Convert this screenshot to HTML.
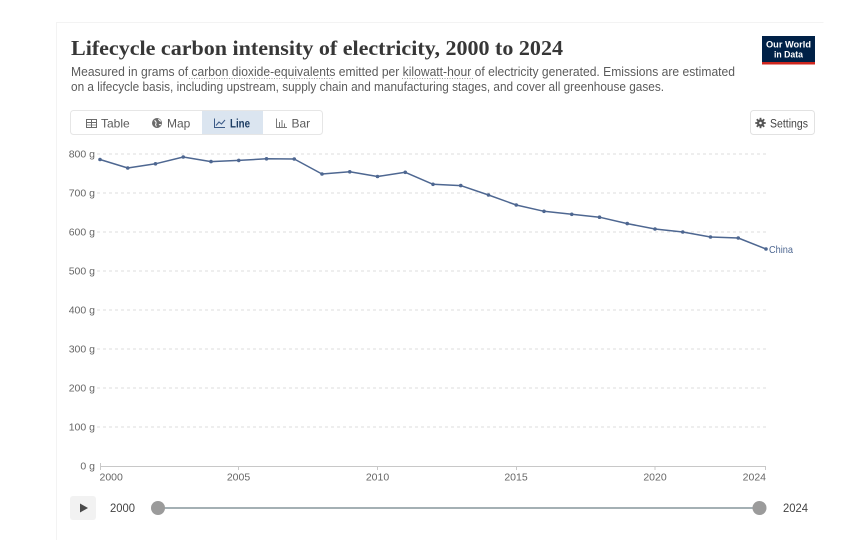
<!DOCTYPE html>
<html><head><meta charset="utf-8"><style>
html,body{margin:0;padding:0;background:#fff;}
svg{display:block;}
text{font-family:"Liberation Sans",sans-serif;}
text.serif{font-family:"Liberation Serif",serif;}
</style></head><body>
<svg width="867" height="540" viewBox="0 0 867 540" xmlns="http://www.w3.org/2000/svg">
<rect x="0" y="0" width="867" height="540" fill="#fff"/>
<!-- faint frame -->
<path d="M56.5 540 V22.5 H823.5" fill="none" stroke="#f3f3f3" stroke-width="1"/>

<!-- Title -->
<text class="serif" x="71" y="55" style="font-family:'Liberation Serif',serif" font-weight="bold" font-size="21" fill="#373737" textLength="492" lengthAdjust="spacingAndGlyphs">Lifecycle carbon intensity of electricity, 2000 to 2024</text>
<!-- Subtitle -->
<text x="71" y="76" font-size="12.5" fill="#5b5b5b" textLength="664" lengthAdjust="spacingAndGlyphs">Measured in grams of carbon dioxide-equivalents emitted per kilowatt-hour of electricity generated. Emissions are estimated</text>
<text x="71" y="91" font-size="12.5" fill="#5b5b5b" textLength="593" lengthAdjust="spacingAndGlyphs">on a lifecycle basis, including upstream, supply chain and manufacturing stages, and cover all greenhouse gases.</text>
<line x1="189" y1="78.5" x2="334" y2="78.5" stroke="#9a9a9a" stroke-width="1" stroke-dasharray="1,1.5"/>
<line x1="402" y1="78.5" x2="473" y2="78.5" stroke="#9a9a9a" stroke-width="1" stroke-dasharray="1,1.5"/>

<!-- Logo -->
<rect x="762" y="36" width="53" height="28" fill="#002147"/>
<rect x="762" y="62" width="53" height="2.5" fill="#ce261e"/>
<text x="788.5" y="47.5" font-size="9.5" font-weight="bold" fill="#fff" text-anchor="middle" textLength="45" lengthAdjust="spacingAndGlyphs">Our World</text>
<text x="788.5" y="57.5" font-size="9.5" font-weight="bold" fill="#fff" text-anchor="middle" textLength="29" lengthAdjust="spacingAndGlyphs">in Data</text>

<!-- Tab bar -->
<rect x="70.5" y="110.5" width="252" height="24" rx="3" fill="#fff" stroke="#e6e6e6"/>
<rect x="202" y="111" width="61" height="23" fill="#dbe5f0"/>
<!-- table icon -->
<rect x="86.5" y="119.5" width="10" height="8" fill="none" stroke="#6b6b6b" stroke-width="1"/>
<line x1="86.5" y1="122.5" x2="96.5" y2="122.5" stroke="#6b6b6b"/>
<line x1="91.5" y1="119.5" x2="91.5" y2="127.5" stroke="#6b6b6b"/>
<line x1="86.5" y1="125" x2="96.5" y2="125" stroke="#6b6b6b" stroke-width="0.7"/>
<text x="101" y="127.5" font-size="12" fill="#5b5b5b">Table</text>
<!-- globe icon -->
<circle cx="157" cy="123" r="5" fill="#6b6b6b"/>
<path d="M154.5 120.5 q2 1 1.5 3 q-1 1 .5 3 M158.5 119 q1 2 2.5 2.2 M159 125 q1 -1 2 0" stroke="#fff" stroke-width="1" fill="none"/>
<text x="167" y="127.5" font-size="12" fill="#5b5b5b">Map</text>
<!-- line icon -->
<path d="M214.5 118.5 V127.5 H225" fill="none" stroke="#3b5a87" stroke-width="1"/>
<path d="M216 125.5 L219 122 L221.5 124 L225 120" fill="none" stroke="#3b5a87" stroke-width="1"/>
<text x="230" y="127.5" font-size="12" fill="#1d3d63" font-weight="bold" textLength="20" lengthAdjust="spacingAndGlyphs">Line</text>
<!-- bar icon -->
<path d="M276.5 118.5 V127.5 H287" fill="none" stroke="#7a7a7a" stroke-width="1"/>
<line x1="279.5" y1="127" x2="279.5" y2="122" stroke="#7a7a7a"/>
<line x1="282" y1="127" x2="282" y2="120" stroke="#7a7a7a"/>
<line x1="284.5" y1="127" x2="284.5" y2="123.5" stroke="#7a7a7a"/>
<text x="291.5" y="127.5" font-size="12" fill="#5b5b5b">Bar</text>

<!-- Settings -->
<rect x="750.5" y="110.5" width="64" height="24" rx="3" fill="#fff" stroke="#e2e2e2"/>
<circle cx="760.5" cy="123" r="3.6" fill="#555"/>
<g stroke="#555" stroke-width="1.8">
<line x1="760.5" y1="117.8" x2="760.5" y2="128.2"/>
<line x1="755.3" y1="123" x2="765.7" y2="123"/>
<line x1="756.8" y1="119.3" x2="764.2" y2="126.7"/>
<line x1="756.8" y1="126.7" x2="764.2" y2="119.3"/>
</g>
<circle cx="760.5" cy="123" r="1.3" fill="#fff"/>
<text x="770" y="127.3" font-size="11.5" fill="#444" textLength="38" lengthAdjust="spacingAndGlyphs">Settings</text>

<!-- Gridlines -->
<g stroke="#dedede" stroke-width="1" stroke-dasharray="3,3">
<line x1="97" y1="154" x2="766" y2="154"/>
<line x1="97" y1="193" x2="766" y2="193"/>
<line x1="97" y1="232" x2="766" y2="232"/>
<line x1="97" y1="271" x2="766" y2="271"/>
<line x1="97" y1="310" x2="766" y2="310"/>
<line x1="97" y1="349" x2="766" y2="349"/>
<line x1="97" y1="388" x2="766" y2="388"/>
<line x1="97" y1="427" x2="766" y2="427"/>
</g>
<!-- Y labels -->
<g font-size="10.5" fill="#666" text-anchor="end">
<text x="95" y="157.5">800 g</text>
<text x="95" y="196.5">700 g</text>
<text x="95" y="235.5">600 g</text>
<text x="95" y="274.5">500 g</text>
<text x="95" y="313.5">400 g</text>
<text x="95" y="352.5">300 g</text>
<text x="95" y="391.5">200 g</text>
<text x="95" y="430.5">100 g</text>
<text x="95" y="469.5">0 g</text>
</g>
<!-- X axis -->
<line x1="100" y1="466.5" x2="766" y2="466.5" stroke="#c8c8c8" stroke-width="1"/>
<g stroke="#c8c8c8" stroke-width="1">
<line x1="100.5" y1="463" x2="100.5" y2="470"/>
<line x1="238.5" y1="466" x2="238.5" y2="470"/>
<line x1="377.5" y1="466" x2="377.5" y2="470"/>
<line x1="516.5" y1="466" x2="516.5" y2="470"/>
<line x1="655" y1="466" x2="655" y2="470"/>
<line x1="765.5" y1="466" x2="765.5" y2="470"/>
</g>
<g font-size="10.5" fill="#666">
<text x="99.5" y="480.5">2000</text>
<text x="238.5" y="480.5" text-anchor="middle">2005</text>
<text x="377.5" y="480.5" text-anchor="middle">2010</text>
<text x="516" y="480.5" text-anchor="middle">2015</text>
<text x="655" y="480.5" text-anchor="middle">2020</text>
<text x="766" y="480.5" text-anchor="end">2024</text>
</g>

<!-- Series -->
<polyline fill="none" stroke="#4e6791" stroke-width="1.5" stroke-linejoin="round" points="100,159.5 127.75,168 155.5,163.8 183.25,157 211,161.6 238.75,160.4 266.5,158.8 294.25,159 322,174 349.75,171.8 377.5,176.5 405.25,172.3 433,184.3 460.75,185.6 488.5,195 516.25,205 544,211.3 571.75,214.3 599.5,217.2 627.25,223.6 655,229 682.75,232 710.5,237 738.25,238 766,249"/>
<g fill="#4e6791">
<circle cx="100" cy="159.5" r="1.8"/><circle cx="127.75" cy="168" r="1.8"/><circle cx="155.5" cy="163.8" r="1.8"/><circle cx="183.25" cy="157" r="1.8"/><circle cx="211" cy="161.6" r="1.8"/><circle cx="238.75" cy="160.4" r="1.8"/><circle cx="266.5" cy="158.8" r="1.8"/><circle cx="294.25" cy="159" r="1.8"/><circle cx="322" cy="174" r="1.8"/><circle cx="349.75" cy="171.8" r="1.8"/><circle cx="377.5" cy="176.5" r="1.8"/><circle cx="405.25" cy="172.3" r="1.8"/><circle cx="433" cy="184.3" r="1.8"/><circle cx="460.75" cy="185.6" r="1.8"/><circle cx="488.5" cy="195" r="1.8"/><circle cx="516.25" cy="205" r="1.8"/><circle cx="544" cy="211.3" r="1.8"/><circle cx="571.75" cy="214.3" r="1.8"/><circle cx="599.5" cy="217.2" r="1.8"/><circle cx="627.25" cy="223.6" r="1.8"/><circle cx="655" cy="229" r="1.8"/><circle cx="682.75" cy="232" r="1.8"/><circle cx="710.5" cy="237" r="1.8"/><circle cx="738.25" cy="238" r="1.8"/><circle cx="766" cy="249" r="1.8"/>
</g>
<text x="769" y="253" font-size="10.5" fill="#4e6791" textLength="24" lengthAdjust="spacingAndGlyphs">China</text>

<!-- Timeline -->
<rect x="70" y="496" width="26" height="24" rx="3" fill="#f2f2f2"/>
<path d="M80 503.5 L80 512.5 L88 508 Z" fill="#4a4a4a"/>
<text x="110" y="512" font-size="11.5" fill="#444" textLength="25" lengthAdjust="spacingAndGlyphs">2000</text>
<line x1="158" y1="508" x2="760" y2="508" stroke="#a4b0b4" stroke-width="2"/>
<circle cx="158" cy="508" r="7" fill="#9b9b9b"/>
<circle cx="759.5" cy="508" r="7" fill="#9b9b9b"/>
<text x="783" y="512" font-size="11.5" fill="#444" textLength="25" lengthAdjust="spacingAndGlyphs">2024</text>
</svg>
</body></html>
